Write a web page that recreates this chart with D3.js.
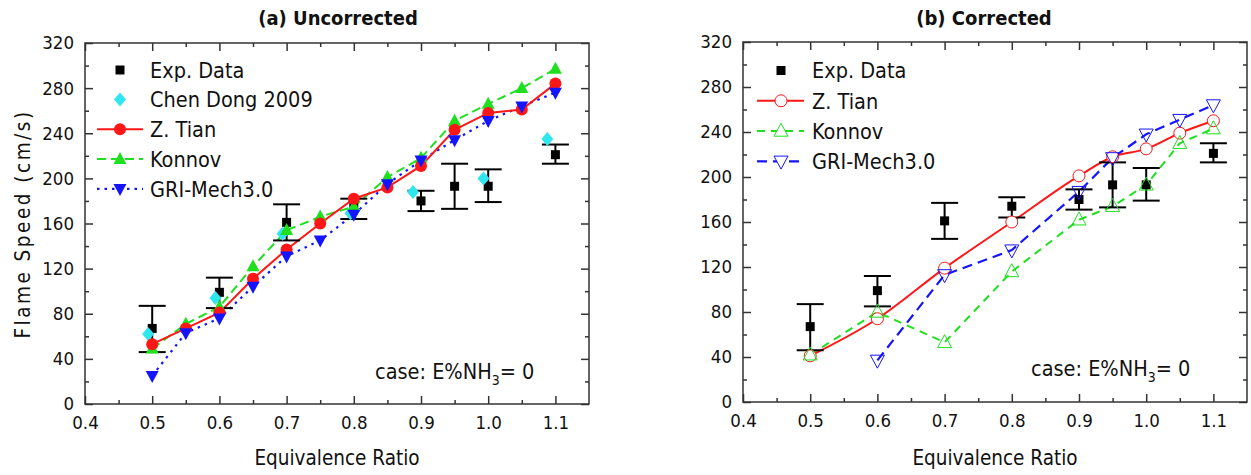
<!DOCTYPE html>
<html>
<head>
<meta charset="utf-8">
<script src="https://cdn.jsdelivr.net/npm/d3@7"></script>
<style>
  html, body { margin: 0; padding: 0; background: #fff; }
  svg { display: block; }
  text { font-family: "DejaVu Sans Condensed", "DejaVu Sans", sans-serif; fill: #111; }
</style>
</head>
<body>
<svg id="chart" width="1251" height="475"></svg>
<script>
// ---------------- data ----------------
const xDomain = [0.4, 1.15];
const yDomain = [0, 320];
const xMajor = [0.4, 0.5, 0.6, 0.7, 0.8, 0.9, 1.0, 1.1];
const xMinor = [0.45, 0.55, 0.65, 0.75, 0.85, 0.95, 1.05];
const yMajor = [0, 40, 80, 120, 160, 200, 240, 280, 320];
const yMinor = [20, 60, 100, 140, 180, 220, 260, 300];

// experimental data (same in both panels)
const expPhi = [0.5, 0.6, 0.7, 0.8, 0.9, 0.95, 1.0, 1.1];
const expVal = [67, 99, 161, 174, 180, 193, 193, 221];
const expLo  = [46, 85, 145, 164, 171, 173, 179, 213];
const expHi  = [87, 112, 177, 182, 189, 213, 208, 230];

// (a) Uncorrected
const phiA     = [0.5, 0.55, 0.6, 0.65, 0.7, 0.75, 0.8, 0.85, 0.9, 0.95, 1.0, 1.05, 1.1];
const tianA    = [53, 67, 81, 111, 137, 160, 182, 192, 211, 243, 258, 261, 284];
const konnovA  = [49, 71, 86, 122, 154, 166, 175, 201, 218, 251, 266, 280, 297];
const griA     = [25, 63, 76, 104, 131, 145, 168, 195, 216, 234, 251, 264, 276];
const chenPhi  = [0.494, 0.594, 0.694, 0.795, 0.888, 0.993, 1.088];
const chenVal  = [62, 94, 151, 169, 188, 200, 235];

// (b) Corrected
const phiB      = [0.5, 0.6, 0.7, 0.8, 0.9, 0.95, 1.0, 1.05, 1.1];
const tianB     = [41, 74, 119, 160, 201, 218, 225, 239, 250];
const konnovB   = [42, 80, 53, 116, 162, 174, 193, 230, 243];
const griPhiB   = [0.6, 0.7, 0.8, 0.9, 0.95, 1.0, 1.05, 1.1];
const griB      = [37, 113, 135, 187, 217, 238, 251, 264];

const legendA = ["Exp. Data", "Chen Dong 2009", "Z. Tian", "Konnov", "GRI-Mech3.0"];
const legendB = ["Exp. Data", "Z. Tian", "Konnov", "GRI-Mech3.0"];

// ---------------- styles ----------------
const RED = "#ff1616", GREEN = "#1ee01e", BLUE = "#1414ff", CYAN = "#2fe6ee", BLACK = "#000";
const FONT_TICK = 18.5, FONT_LEG = 21.5, FONT_TITLE = 20, FONT_AXIS = 20.5;

const svg = d3.select("#chart");

// marker path helpers
const sq = s => `M${-s/2},${-s/2}h${s}v${s}h${-s}Z`;
const diamond = (w, h) => `M0,${-h/2}L${w/2},0L0,${h/2}L${-w/2},0Z`;
const triUp = (w, h) => `M0,${-h*0.6}L${w/2},${h*0.4}L${-w/2},${h*0.4}Z`;
const triDown = (w, h) => `M0,${h*0.6}L${w/2},${-h*0.4}L${-w/2},${-h*0.4}Z`;

function zip(xs, ys) { return xs.map((x, i) => ({x, y: ys[i]})); }

function panel(box, title, titleX) {
  const g = svg.append("g");
  const x = d3.scaleLinear().domain(xDomain).range([box.l, box.r]);
  const y = d3.scaleLinear().domain(yDomain).range([box.b, box.t]);

  const axisStyle = sel => {
    sel.select(".domain").remove();
    sel.selectAll("line").attr("stroke", "#333").attr("stroke-width", 1.5);
    sel.selectAll("text").style("font-size", FONT_TICK + "px")
       .style("font-family", '"DejaVu Sans Condensed","DejaVu Sans",sans-serif').attr("fill", "#111");
  };
  // bottom
  g.append("g").attr("transform", `translate(0,${box.b})`)
    .call(d3.axisBottom(x).tickValues(xMajor).tickSize(-8).tickPadding(12).tickFormat(d3.format(".1f"))).call(axisStyle);
  g.append("g").attr("transform", `translate(0,${box.b})`)
    .call(d3.axisBottom(x).tickValues(xMinor).tickSize(-4).tickFormat("")).call(axisStyle);
  // top
  g.append("g").attr("transform", `translate(0,${box.t})`)
    .call(d3.axisTop(x).tickValues(xMajor).tickSize(-8).tickFormat("")).call(axisStyle);
  g.append("g").attr("transform", `translate(0,${box.t})`)
    .call(d3.axisTop(x).tickValues(xMinor).tickSize(-4).tickFormat("")).call(axisStyle);
  // left
  g.append("g").attr("transform", `translate(${box.l},0)`)
    .call(d3.axisLeft(y).tickValues(yMajor).tickSize(-8).tickPadding(11)).call(axisStyle);
  g.append("g").attr("transform", `translate(${box.l},0)`)
    .call(d3.axisLeft(y).tickValues(yMinor).tickSize(-4).tickFormat("")).call(axisStyle);
  // right
  g.append("g").attr("transform", `translate(${box.r},0)`)
    .call(d3.axisRight(y).tickValues(yMajor).tickSize(-8).tickFormat("")).call(axisStyle);
  g.append("g").attr("transform", `translate(${box.r},0)`)
    .call(d3.axisRight(y).tickValues(yMinor).tickSize(-4).tickFormat("")).call(axisStyle);

  // frame
  g.append("rect").attr("x", box.l).attr("y", box.t).attr("width", box.r - box.l).attr("height", box.b - box.t)
    .attr("fill", "none").attr("stroke", "#333").attr("stroke-width", 1.5);

  // title
  g.append("text").attr("x", titleX).attr("y", 25).attr("text-anchor", "middle")
    .style("font-size", FONT_TITLE + "px").style("font-weight", "bold").text(title);
  // x axis title
  g.append("text").attr("x", (box.l + box.r) / 2).attr("y", 465).attr("text-anchor", "middle")
    .style("font-size", FONT_AXIS + "px").text("Equivalence Ratio");

  return {g, x, y};
}

function drawLine(p, pts, color, width, dash, curve) {
  p.g.append("path").datum(pts)
    .attr("d", d3.line().x(d => p.x(d.x)).y(d => p.y(d.y)).curve(curve || d3.curveLinear))
    .attr("fill", "none").attr("stroke", color).attr("stroke-width", width)
    .attr("stroke-dasharray", dash || null);
}
function drawMarkers(p, pts, pathD, fill, stroke, sw) {
  p.g.append("g").selectAll("path").data(pts).join("path")
    .attr("transform", d => `translate(${p.x(d.x)},${p.y(d.y)})`)
    .attr("d", pathD).attr("fill", fill).attr("stroke", stroke || "none").attr("stroke-width", sw || 0);
}
function drawCircles(p, pts, r, fill, stroke, sw) {
  p.g.append("g").selectAll("circle").data(pts).join("circle")
    .attr("cx", d => p.x(d.x)).attr("cy", d => p.y(d.y)).attr("r", r)
    .attr("fill", fill).attr("stroke", stroke || "none").attr("stroke-width", sw || 0);
}
function drawExp(p) {
  const data = expPhi.map((x, i) => ({x, y: expVal[i], lo: expLo[i], hi: expHi[i]}));
  const eg = p.g.append("g").attr("stroke", BLACK).attr("stroke-width", 2);
  data.forEach(d => {
    const cx = p.x(d.x);
    eg.append("line").attr("x1", cx).attr("x2", cx).attr("y1", p.y(d.lo)).attr("y2", p.y(d.hi));
    eg.append("line").attr("x1", cx - 13.5).attr("x2", cx + 13.5).attr("y1", p.y(d.lo)).attr("y2", p.y(d.lo));
    eg.append("line").attr("x1", cx - 13.5).attr("x2", cx + 13.5).attr("y1", p.y(d.hi)).attr("y2", p.y(d.hi));
  });
  drawMarkers(p, data, sq(9), BLACK);
}
function caseLabel(p, xStart, yBase) {
  const t = p.g.append("text").attr("x", xStart).attr("y", yBase).style("font-size", FONT_LEG + "px");
  t.append("tspan").text("case: E%NH");
  t.append("tspan").attr("dy", 6).style("font-size", "14px").text("3");
  t.append("tspan").attr("dy", -6).text("= 0");
}

// ================= Panel (a) =================
const A = panel({l: 85, r: 589, t: 43, b: 404}, "(a) Uncorrected", 338);
drawLine(A, zip(phiA, konnovA), GREEN, 2, "9,5");
drawLine(A, zip(phiA, griA), BLUE, 2.2, "2.5,5");
drawLine(A, zip(phiA, tianA), RED, 2);
drawExp(A);
drawMarkers(A, zip(chenPhi, chenVal), diamond(12, 14), CYAN);
drawMarkers(A, zip(phiA, konnovA), triUp(13, 12), GREEN);
drawCircles(A, zip(phiA, tianA), 6, RED);
drawMarkers(A, zip(phiA, griA), triDown(13, 12), BLUE);

// legend (a)
{
  const lx = 120, tx = 150, rows = [70, 99.5, 129.3, 159.1, 188.9];
  const lg = A.g.append("g");
  lg.append("path").attr("transform", `translate(${lx},${rows[0]})`).attr("d", sq(9)).attr("fill", BLACK);
  lg.append("path").attr("transform", `translate(${lx},${rows[1]})`).attr("d", diamond(12, 14)).attr("fill", CYAN);
  lg.append("line").attr("x1", 97).attr("x2", 143).attr("y1", rows[2]).attr("y2", rows[2]).attr("stroke", RED).attr("stroke-width", 2);
  lg.append("circle").attr("cx", lx).attr("cy", rows[2]).attr("r", 6).attr("fill", RED);
  lg.append("line").attr("x1", 97).attr("x2", 143).attr("y1", rows[3]).attr("y2", rows[3]).attr("stroke", GREEN).attr("stroke-width", 2).attr("stroke-dasharray", "9,5");
  lg.append("path").attr("transform", `translate(${lx},${rows[3]})`).attr("d", triUp(13, 12)).attr("fill", GREEN);
  lg.append("line").attr("x1", 97).attr("x2", 143).attr("y1", rows[4]).attr("y2", rows[4]).attr("stroke", BLUE).attr("stroke-width", 2.2).attr("stroke-dasharray", "2.5,5");
  lg.append("path").attr("transform", `translate(${lx},${rows[4]})`).attr("d", triDown(13, 12)).attr("fill", BLUE);
  legendA.forEach((s, i) => lg.append("text").attr("x", tx).attr("y", rows[i]).attr("dy", "0.36em")
    .style("font-size", FONT_LEG + "px").text(s));
}
caseLabel(A, 375, 379);

// ================= Panel (b) =================
const B = panel({l: 743, r: 1247, t: 42, b: 402}, "(b) Corrected", 984);
drawLine(B, zip(phiB, konnovB), GREEN, 2, "8,6");
drawLine(B, zip(griPhiB, griB), BLUE, 2.2, "10,6");
drawLine(B, zip(phiB, tianB), RED, 2, null, d3.curveMonotoneX);
drawExp(B);
drawCircles(B, zip(phiB, tianB), 6, "#fff", RED, 1);
drawMarkers(B, zip(phiB, konnovB), triUp(14, 13), "none", GREEN, 1);
drawMarkers(B, zip(griPhiB, griB), triDown(14, 13), "none", BLUE, 1);

// legend (b)
{
  const lx = 781, tx = 812, rows = [70.5, 100.8, 131, 161.3];
  const lg = B.g.append("g");
  lg.append("path").attr("transform", `translate(${lx},${rows[0]})`).attr("d", sq(9)).attr("fill", BLACK);
  lg.append("line").attr("x1", 757).attr("x2", 804).attr("y1", rows[1]).attr("y2", rows[1]).attr("stroke", RED).attr("stroke-width", 2);
  lg.append("circle").attr("cx", lx).attr("cy", rows[1]).attr("r", 6).attr("fill", "#fff").attr("stroke", RED).attr("stroke-width", 1);
  lg.append("line").attr("x1", 757).attr("x2", 804).attr("y1", rows[2]).attr("y2", rows[2]).attr("stroke", GREEN).attr("stroke-width", 2).attr("stroke-dasharray", "8,6");
  lg.append("path").attr("transform", `translate(${lx},${rows[2]})`).attr("d", triUp(14, 13)).attr("fill", "#fff").attr("stroke", GREEN).attr("stroke-width", 1);
  lg.append("line").attr("x1", 757).attr("x2", 804).attr("y1", rows[3]).attr("y2", rows[3]).attr("stroke", BLUE).attr("stroke-width", 2.2).attr("stroke-dasharray", "10,6");
  lg.append("path").attr("transform", `translate(${lx},${rows[3]})`).attr("d", triDown(14, 13)).attr("fill", "#fff").attr("stroke", BLUE).attr("stroke-width", 1);
  legendB.forEach((s, i) => lg.append("text").attr("x", tx).attr("y", rows[i]).attr("dy", "0.36em")
    .style("font-size", FONT_LEG + "px").text(s));
}
caseLabel(B, 1031, 376);

// y axis title (left panel only)
svg.append("text").attr("transform", "translate(30,224) rotate(-90)").attr("text-anchor", "middle")
  .style("font-size", FONT_AXIS + "px").style("letter-spacing", "2.5px").text("Flame Speed (cm/s)");
</script>
</body>
</html>
